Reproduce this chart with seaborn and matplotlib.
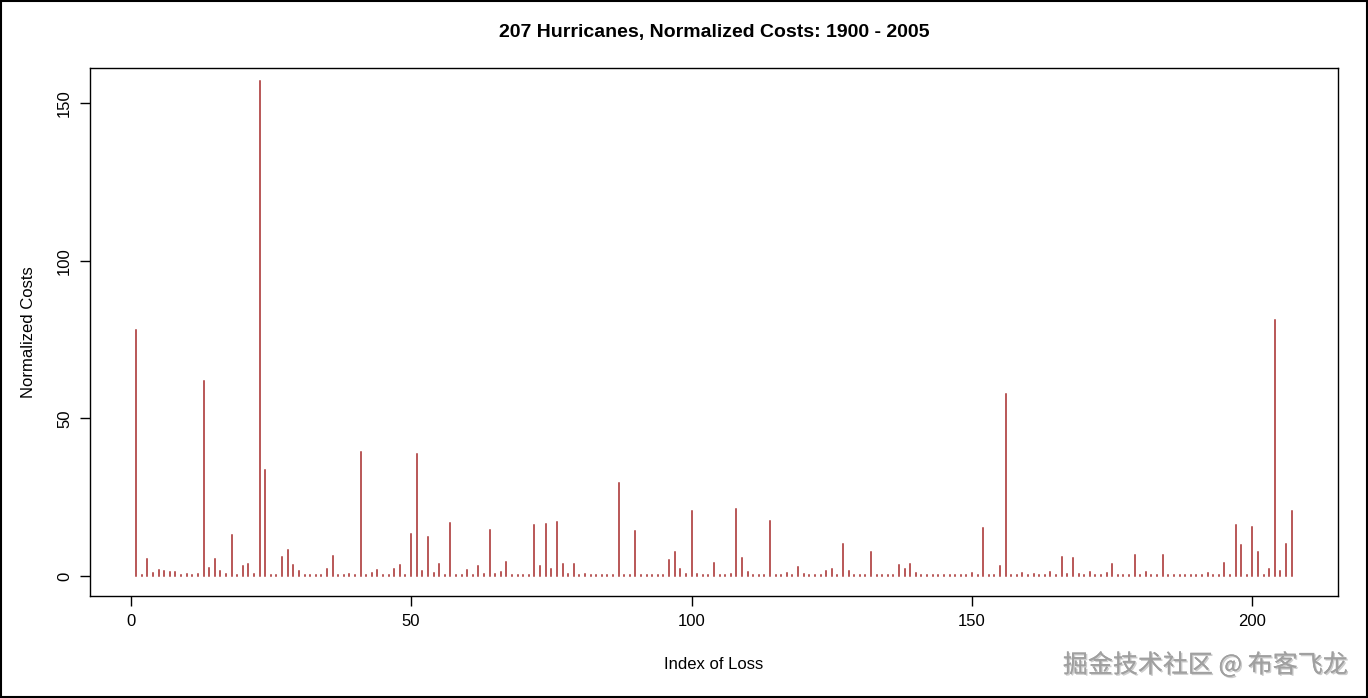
import numpy as np
import pandas as pd
import matplotlib
matplotlib.use("Agg")
import matplotlib.pyplot as plt
import matplotlib.patheffects as pe
import seaborn as sns

# normalized costs, index 1..207
costs_1_40 = [78, 0.3, 5.4, 1.0, 1.9, 1.6, 1.3, 1.3, 0.4, 0.6,
              0.4, 0.6, 61.8, 2.5, 5.4, 1.7, 0.6, 13.0, 0.3, 3.2,
              3.8, 0.6, 157, 33.6, 0.3, 0.3, 6.0, 8.2, 3.5, 1.7,
              0.3, 0.3, 0.3, 0.3, 2.2, 6.3, 0.3, 0.3, 0.6, 0.3]
costs_41_80 = [39.3, 0.3, 1.0, 1.9, 0.3, 0.3, 2.2, 3.5, 0.3, 13.3,
               38.7, 1.6, 12.4, 1.0, 3.8, 0.3, 16.8, 0.3, 0.3, 1.9,
               0.3, 3.2, 0.6, 14.6, 0.6, 1.3, 4.4, 0.3, 0.3, 0.3,
               0.3, 16.2, 3.2, 16.5, 2.2, 17.1, 3.8, 0.6, 3.8, 0.3]
costs_81_120 = [0.6, 0.3, 0.3, 0.3, 0.3, 0.3, 29.5, 0.3, 0.3, 14.3,
                0.3, 0.3, 0.3, 0.3, 0.3, 5.1, 7.6, 2.2, 0.6, 20.6,
                0.6, 0.3, 0.3, 4.1, 0.3, 0.3, 0.6, 21.2, 5.7, 1.3,
                0.3, 0.3, 0.3, 17.4, 0.3, 0.3, 1.0, 0.3, 2.9, 0.6]
costs_121_160 = [0.3, 0.3, 0.3, 1.6, 2.2, 0.3, 10.1, 1.6, 0.3, 0.3,
                 0.3, 7.6, 0.3, 0.3, 0.3, 0.3, 3.5, 2.2, 3.8, 1.0,
                 0.3, 0.3, 0.3, 0.3, 0.3, 0.3, 0.3, 0.3, 0.3, 1.0,
                 0.3, 15.2, 0.3, 0.3, 3.2, 57.7, 0.3, 0.3, 1.0, 0.3]
costs_161_207 = [0.6, 0.3, 0.3, 1.3, 0.3, 6.0, 0.6, 5.7, 0.6, 0.3,
                 1.3, 0.3, 0.3, 1.0, 3.8, 0.3, 0.3, 0.3, 6.7, 0.3,
                 1.3, 0.3, 0.3, 6.7, 0.3, 0.3, 0.3, 0.3, 0.3, 0.3,
                 0.3, 1.0, 0.3, 0.3, 4.1, 0.3, 16.2, 9.8, 0.3, 15.5,
                 7.6, 0.3, 2.2, 81.2, 1.6, 10.1, 20.6]

costs = costs_1_40 + costs_41_80 + costs_81_120 + costs_121_160 + costs_161_207
df = pd.DataFrame({"index": np.arange(1, len(costs) + 1), "cost": costs})

sns.set_style("ticks")
plt.rcParams['font.family'] = ['Liberation Sans', 'DejaVu Sans']
plt.rcParams.update({"text.color": "black", "axes.labelcolor": "black",
                     "xtick.color": "black", "ytick.color": "black"})

fig = plt.figure(figsize=(13.68, 6.98), dpi=100)
ax = fig.add_axes([0.0658, 0.1461, 0.9122, 0.7565])

# type="h" style plot
lines = ax.vlines(df["index"], 0, df["cost"], color="#A52A2A", linewidth=1.1)
lines.set_capstyle("projecting")

ax.set_xlim(-7.24, 215.24)
ax.set_ylim(-6.34, 161.1)
ax.set_xticks([0, 50, 100, 150, 200])
ax.set_yticks([0, 50, 100, 150])
ax.set_yticklabels(["0", "50", "100", "150"], rotation=90, va="center")
ax.tick_params(axis="both", direction="out", length=7, width=1, color="black",
               labelsize=12, pad=6)
for s in ax.spines.values():
    s.set_visible(True)
    s.set_color("black")
    s.set_linewidth(1)

ax.set_xlabel("Index of Loss", fontsize=12, labelpad=20)
ax.set_ylabel("Normalized Costs", fontsize=12, labelpad=15)
ax.set_title("207 Hurricanes, Normalized Costs: 1900 - 2005", fontsize=14,
             fontweight="bold", pad=22)

# outer frame around the whole figure
fig.patches.append(plt.Rectangle((0.0007, 0.001), 0.9986, 0.997, transform=fig.transFigure,
                                 fill=False, edgecolor="black", linewidth=1.5))

# watermark
fig.text(0.9852, 0.028, "掘金技术社区 @ 布客飞龙", ha="right", va="bottom", fontsize=18,
         color="#a0a0a0", family=["Noto Sans CJK SC", "DejaVu Sans"],
         path_effects=[pe.withSimplePatchShadow(offset=(1, -1), shadow_rgbFace="#707070", alpha=0.35),
                       pe.Normal()])

fig.savefig("out.png", dpi=100)
